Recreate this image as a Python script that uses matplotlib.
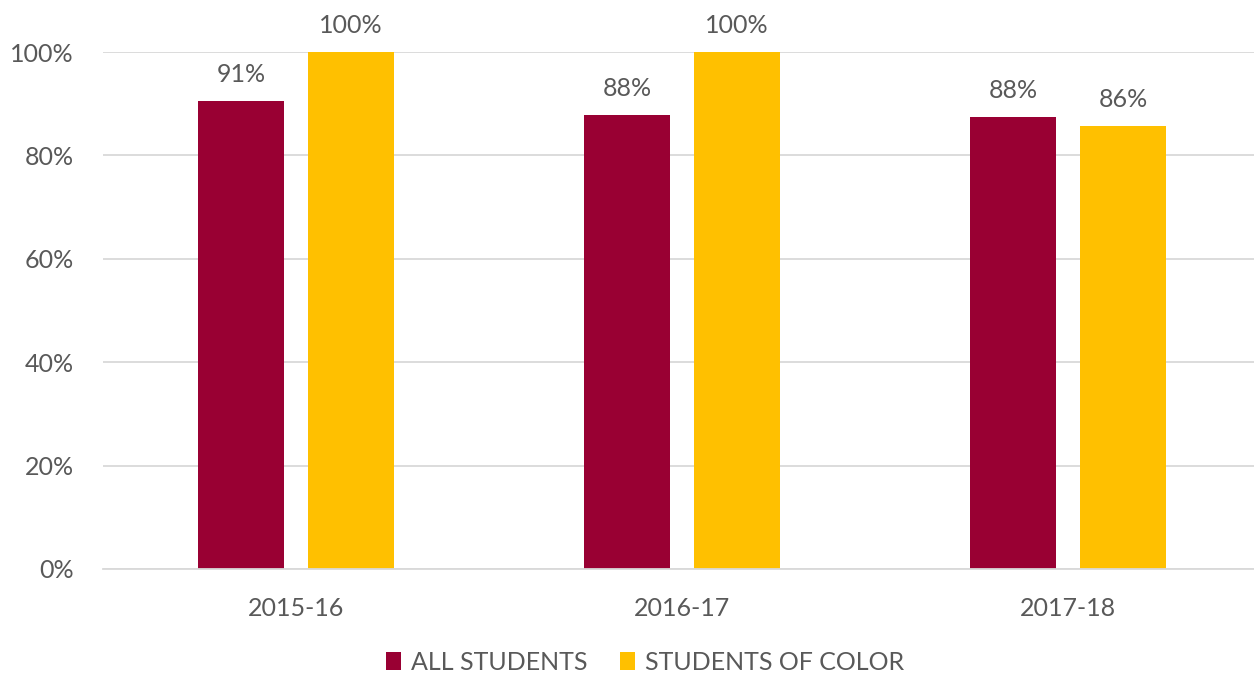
import numpy as np
import matplotlib
matplotlib.use("Agg")
import matplotlib.pyplot as plt

years = ["2015-16", "2016-17", "2017-18"]
all_students = [90.5, 87.8, 87.4]
students_of_color = [100, 100, 85.7]
all_labels = ["91%", "88%", "88%"]
color_labels = ["100%", "100%", "86%"]

MAROON = "#990033"
GOLD = "#FFC000"
TEXT = "#595959"
FS = 18

plt.rcParams["font.family"] = ["Lato", "DejaVu Sans"]

fig = plt.figure(figsize=(12.54, 6.76), dpi=100)
ax = fig.add_axes([103 / 1254, 1 - 569 / 676, 1158 / 1254, 517 / 676])

x = np.arange(len(years))
w = 0.223
off = 0.1425
b1 = ax.bar(x - off, all_students, w, color=MAROON, label="ALL STUDENTS", zorder=2)
b2 = ax.bar(x + off, students_of_color, w, color=GOLD, label="STUDENTS OF COLOR", zorder=2)

# value labels above bars
for bars, labs in ((b1, all_labels), (b2, color_labels)):
    for r, t in zip(bars, labs):
        ax.annotate(t, (r.get_x() + r.get_width() / 2, r.get_height()),
                    xytext=(0, 11), textcoords="offset points",
                    ha="center", va="bottom", fontsize=FS, color=TEXT)

ax.set_xlim(-0.5, 2.5)
ax.set_ylim(0, 100)
ax.set_yticks(range(0, 101, 20))
ax.set_yticklabels([f"{v}%" for v in range(0, 101, 20)])
ax.set_xticks(x)
ax.set_xticklabels(years)
ax.yaxis.grid(True, color="#D9D9D9", linewidth=1.3, zorder=0)
for s in ["top", "right", "left"]:
    ax.spines[s].set_visible(False)
ax.spines["bottom"].set_color("#D9D9D9")
ax.spines["bottom"].set_linewidth(1.3)
ax.tick_params(axis="both", length=0, labelsize=FS, labelcolor=TEXT)
ax.tick_params(axis="x", pad=20)
ax.tick_params(axis="y", pad=21)

ax.legend(loc="upper center", bbox_to_anchor=(645 / 1254, 1 - 638 / 676),
          bbox_transform=fig.transFigure, ncol=2, frameon=False, fontsize=FS,
          labelcolor=TEXT, handlelength=0.6, handleheight=0.75, handletextpad=0.4,
          columnspacing=1.3, borderpad=0)

fig.savefig("out.png", dpi=100)
